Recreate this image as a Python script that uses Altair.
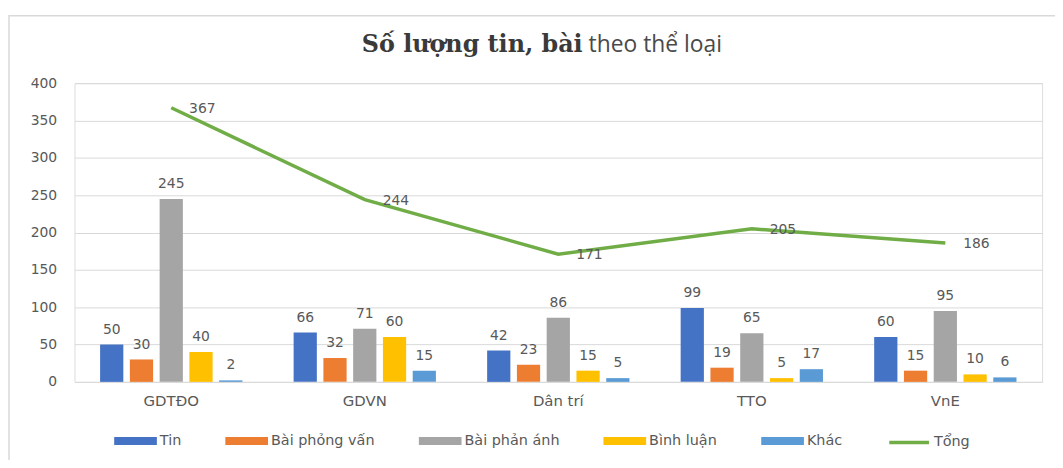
import altair as alt
import pandas as pd

sites = ["GDTĐO", "GDVN", "Dân trí", "TTO", "VnE"]
types = ["Tin", "Bài phỏng vấn", "Bài phản ánh", "Bình luận", "Khác"]
colors = ["#4472C4", "#ED7D31", "#A5A5A5", "#FFC000", "#5B9BD5"]
tin = [50, 66, 42, 99, 60]
phong_van = [30, 32, 23, 19, 15]
phan_anh = [245, 71, 86, 65, 95]
binh_luan = [40, 60, 15, 5, 10]
khac = [2, 15, 5, 17, 6]
tong = [367, 244, 171, 205, 186]
y_ticks = [0, 50, 100, 150, 200, 250, 300, 350, 400]
title_part1 = "Số lượng tin, bài"
title_part2 = "theo thể loại"

FONT = "DejaVu Sans"
TXT = "#595959"

rows = []
for t, vals in zip(types, [tin, phong_van, phan_anh, binh_luan, khac]):
    for s, v in zip(sites, vals):
        rows.append({"site": s, "type": t, "value": v})
bars_df = pd.DataFrame(rows)
line_df = pd.DataFrame({"site": sites, "type": ["Tổng"] * len(sites), "value": tong})

x = alt.X(
    "site:N", sort=sites,
    scale=alt.Scale(paddingInner=0.2308, paddingOuter=0.1154),
    axis=alt.Axis(title=None, labelAngle=0, labelFont=FONT, labelFontSize=15,
                  labelColor=TXT, labelPadding=12, ticks=False, domain=False, grid=False),
)
y = alt.Y(
    "value:Q",
    scale=alt.Scale(domain=[0, 400], nice=False),
    axis=alt.Axis(title=None, values=y_ticks, grid=True, gridColor="#D9D9D9", gridWidth=1,
                  ticks=False, domain=False, labelPadding=18, labelFont=FONT,
                  labelFontSize=14, labelColor=TXT),
)
xoff = alt.XOffset("type:N", sort=types, scale=alt.Scale(paddingInner=0.22, paddingOuter=0.11))

border = alt.Chart(alt.Data(values=[{"a": 1}])).mark_rect(
    fill="transparent", stroke="#D9D9D9", strokeWidth=1.5
).encode(x=alt.value(-66), x2=alt.value(1000), y=alt.value(-68), y2=alt.value(400))

title1 = alt.Chart(alt.Data(values=[{"t": title_part1}])).mark_text(
    align="right", baseline="alphabetic", font="DejaVu Serif", fontSize=24,
    fontWeight="bold", color="#3a3a3a"
).encode(x=alt.value(512), y=alt.value(-31), text="t:N")
title2 = alt.Chart(alt.Data(values=[{"t": title_part2}])).mark_text(
    align="left", baseline="alphabetic", font="Open Sans", fontSize=23, color="#4a4a4a"
).encode(x=alt.value(518), y=alt.value(-31), text="t:N")

bars = alt.Chart(bars_df).mark_bar().encode(
    x=x, y=y, xOffset=xoff,
    color=alt.Color(
        "type:N", sort=types, scale=alt.Scale(domain=types, range=colors),
        legend=alt.Legend(title=None, orient="none", legendX=40, legendY=339,
                          direction="horizontal", columns=5, columnPadding=44,
                          symbolType="M-1,-0.186H1V0.186H-1Z", symbolSize=1849,
                          symbolStrokeWidth=0, labelFont=FONT, labelFontSize=14.5,
                          labelColor=TXT, labelOffset=3, padding=0),
    ),
)
bar_labels = alt.Chart(bars_df).mark_text(
    dy=-11, baseline="alphabetic", font=FONT, fontSize=14, color=TXT
).encode(x=x, y=y, xOffset=xoff, text="value:Q")

line = alt.Chart(line_df).mark_line(strokeWidth=3.5).encode(
    x=x, y=y,
    stroke=alt.Stroke(
        "type:N", scale=alt.Scale(domain=["Tổng"], range=["#70AD47"]),
        legend=alt.Legend(title=None, orient="none", legendX=819, legendY=340,
                          symbolType="stroke", symbolSize=1600, symbolStrokeWidth=3.5,
                          labelFont=FONT, labelFontSize=14.5, labelColor=TXT,
                          labelOffset=3, padding=0),
    ),
)
line_labels = alt.Chart(line_df).mark_text(
    align="left", dx=18, dy=1, baseline="middle", font=FONT, fontSize=14, color=TXT
).encode(x=x, y=y, text="value:Q")

chart = alt.layer(border, title1, title2, bars, bar_labels, line, line_labels).properties(
    width=975, height=301,
    autosize=alt.AutoSizeParams(type="none"),
    padding={"left": 67, "top": 74, "right": 13, "bottom": 77},
).configure_view(stroke=None).configure(background="white")

chart.save("out.html", embed_options={"renderer": "svg", "actions": False})
